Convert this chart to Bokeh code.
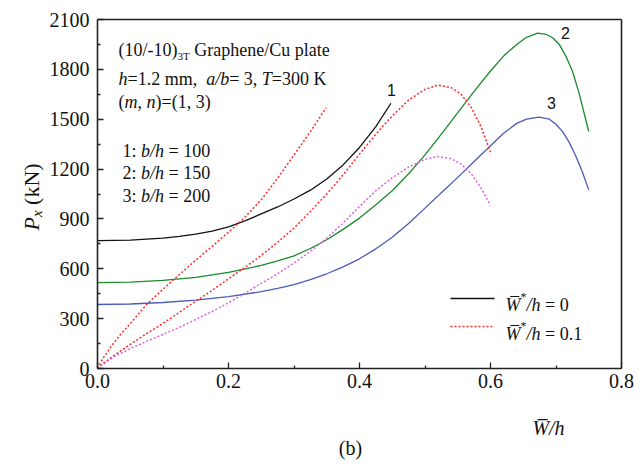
from math import pi

from bokeh.embed import file_html
from bokeh.models import FixedTicker, Label, LinearAxis, PrintfTickFormatter, Range1d
from bokeh.plotting import figure
from bokeh.resources import INLINE

# Central deflection ratio W/h and axial load P_x (kN)
# solid curves: perfect plate (W*/h = 0); dotted curves: imperfect plate (W*/h = 0.1)
x_perf_1 = [0, 0.05, 0.1, 0.125, 0.15, 0.175, 0.2, 0.225, 0.25, 0.275, 0.3, 0.325, 0.35,
            0.375, 0.4, 0.425, 0.448]
p_perf_1 = [770, 773, 785, 795, 808, 826, 852, 888, 930, 972, 1020, 1073, 1140,
            1225, 1330, 1455, 1596]

x_perf_2 = [0, 0.05, 0.1, 0.15, 0.2, 0.25, 0.275, 0.3, 0.325, 0.35, 0.375, 0.4, 0.425, 0.45,
            0.475, 0.5, 0.525, 0.55, 0.575, 0.6, 0.62, 0.64, 0.655, 0.672, 0.685, 0.695,
            0.705, 0.715, 0.725, 0.735, 0.75]
p_perf_2 = [517, 520, 530, 548, 578, 620, 647, 678, 722, 775, 837, 905, 985, 1070,
            1172, 1285, 1410, 1540, 1668, 1790, 1880, 1950, 1993, 2018, 2010, 1990,
            1950, 1880, 1790, 1660, 1426]

x_perf_3 = [0, 0.05, 0.1, 0.15, 0.2, 0.25, 0.275, 0.3, 0.325, 0.35, 0.375, 0.4, 0.425, 0.45,
            0.475, 0.5, 0.525, 0.55, 0.575, 0.6, 0.62, 0.64, 0.655, 0.674, 0.69, 0.7,
            0.71, 0.72, 0.73, 0.74, 0.75]
p_perf_3 = [385, 388, 397, 412, 432, 462, 482, 505, 535, 570, 612, 660, 720, 790,
            873, 965, 1058, 1150, 1245, 1340, 1415, 1475, 1500, 1512, 1500, 1470,
            1425, 1362, 1280, 1185, 1075]

x_imp_1 = [0, 0.005, 0.01, 0.02, 0.035, 0.05, 0.075, 0.1, 0.125, 0.15, 0.175, 0.2, 0.225,
           0.25, 0.275, 0.3, 0.325, 0.349]
p_imp_1 = [0, 38, 70, 128, 205, 270, 385, 477, 565, 652, 735, 820, 910,
           1015, 1145, 1285, 1425, 1569]

x_imp_2 = [0, 0.005, 0.01, 0.025, 0.05, 0.075, 0.1, 0.125, 0.15, 0.175, 0.2, 0.225, 0.25,
           0.275, 0.3, 0.325, 0.35, 0.375, 0.4, 0.425, 0.45, 0.475, 0.5, 0.52, 0.54,
           0.555, 0.57, 0.585, 0.6]
p_imp_2 = [0, 18, 35, 78, 145, 210, 272, 338, 405, 470, 540, 608, 680,
           760, 845, 945, 1050, 1165, 1290, 1410, 1520, 1615, 1680, 1705, 1690,
           1650, 1575, 1460, 1302]

x_imp_3 = [0, 0.005, 0.01, 0.025, 0.05, 0.075, 0.1, 0.125, 0.15, 0.175, 0.2, 0.225, 0.25,
           0.275, 0.3, 0.325, 0.35, 0.375, 0.4, 0.425, 0.45, 0.475, 0.5, 0.52, 0.54,
           0.555, 0.57, 0.585, 0.6]
p_imp_3 = [0, 16, 30, 70, 120, 163, 205, 248, 295, 343, 395, 453, 512,
           570, 635, 705, 785, 875, 975, 1070, 1148, 1212, 1258, 1276, 1262,
           1230, 1175, 1090, 981]

x_ticks = [0, 0.2, 0.4, 0.6, 0.8]
x_minor = [0.1, 0.3, 0.5, 0.7]
y_ticks = [0, 300, 600, 900, 1200, 1500, 1800, 2100]
y_minor = [150, 450, 750, 1050, 1350, 1650, 1950]

SERIF = "Liberation Serif"
SANS = "Liberation Sans"
INK = "#111111"

# canvas size and where the axes box sits on it (pixels from the top-left corner)
W, H = 643, 471
L, R, T, B = 97, 621, 19, 368
XMAX, YMAX = 0.8, 2100

# the frame spans the whole canvas; axes are pinned to the box edges
sx = (R - L) / XMAX
sy = (B - T) / YMAX
x_lo, x_hi = -L / sx, XMAX + (W - R) / sx
y_lo, y_hi = -(H - B) / sy, YMAX + T / sy


def dx(px):
    return x_lo + px / sx


def dy(py):
    return y_hi - py / sy


p = figure(width=W, height=H, x_range=Range1d(x_lo, x_hi), y_range=Range1d(y_lo, y_hi),
           output_backend="svg", toolbar_location=None, min_border=0)
p.background_fill_color = "white"
p.border_fill_color = "white"
p.outline_line_color = None
p.xgrid.visible = False
p.ygrid.visible = False


def style_axis(ax):
    ax.axis_line_color = "#222222"
    ax.axis_line_width = 1.6
    ax.major_tick_line_color = "#222222"
    ax.minor_tick_line_color = "#222222"
    ax.major_tick_line_width = 1.3
    ax.minor_tick_line_width = 1.3
    ax.major_tick_in = 6
    ax.major_tick_out = 0
    ax.minor_tick_in = 3
    ax.minor_tick_out = 0
    ax.major_label_text_font = SERIF
    ax.major_label_text_font_size = "20px"
    ax.major_label_text_color = INK


xa = p.xaxis[0]
style_axis(xa)
xa.fixed_location = 0
xa.bounds = (0, XMAX)
xa.ticker = FixedTicker(ticks=x_ticks, minor_ticks=x_minor)
xa.formatter = PrintfTickFormatter(format="%.1f")
xa.major_label_standoff = 5

ya = p.yaxis[0]
style_axis(ya)
ya.fixed_location = 0
ya.bounds = (0, YMAX)
ya.ticker = FixedTicker(ticks=y_ticks, minor_ticks=y_minor)
ya.major_label_standoff = 8

# plain top and right edges of the box
top = LinearAxis(fixed_location=YMAX, bounds=(0, XMAX), ticker=FixedTicker(ticks=[]))
right = LinearAxis(fixed_location=XMAX, bounds=(0, YMAX), ticker=FixedTicker(ticks=[]))
for ax in (top, right):
    style_axis(ax)
p.add_layout(top, "above")
p.add_layout(right, "right")
p.axis.major_label_text_font = SERIF

BLACK = "#111111"
GREEN = "#1b8a2b"
BLUE = "#4b5cb8"
RED = "#ff2a2a"
MAGENTA = "#dd62dd"

p.line(x_perf_1, p_perf_1, line_color=BLACK, line_width=1.3, line_join="round")
p.line(x_perf_2, p_perf_2, line_color=GREEN, line_width=1.3, line_join="round")
p.line(x_perf_3, p_perf_3, line_color=BLUE, line_width=1.3, line_join="round")
p.line(x_imp_1, p_imp_1, line_color=RED, line_width=1.5, line_dash="2 2")
p.line(x_imp_2, p_imp_2, line_color=RED, line_width=1.5, line_dash="2 2")
p.line(x_imp_3, p_imp_3, line_color=MAGENTA, line_width=1.5, line_dash="2 2")

# Times-metric advance widths (em) used to lay out mixed-style text runs
REG = {"(": .333, ")": .333, "/": .278, "-": .333, "=": .564, " ": .25, "\u00a0": .25,
       ",": .25, ":": .278, ".": .25, "m": .778, "K": .722, "G": .722, "r": .333,
       "a": .444, "p": .5, "h": .5, "e": .444, "n": .5, "C": .667, "u": .5, "l": .278,
       "t": .278, "T": .611, "k": .5, "N": .722, "*": .5}
ITA = {"a": .5, "b": .5, "h": .5, "m": .722, "n": .5, "T": .556, "P": .611, "x": .444,
       "W": .833, "/": .278, "\u0305": 0.0}
NB = "\u00a0"


def width(s, italic, size):
    tbl = ITA if italic else REG
    return sum(tbl.get(ch, .5) for ch in s) * size


def label(x_px, y_px, text, size, italic=False, font=SERIF, align="left",
          baseline="alphabetic", angle=0.0):
    p.add_layout(Label(x=dx(x_px), y=dy(y_px), text=text, text_font=font,
                       text_font_size=f"{size}px",
                       text_font_style="italic" if italic else "normal",
                       text_color=INK, text_align=align, text_baseline=baseline,
                       angle=angle))


def run(x_px, base_px, pieces, size=18):
    """Lay out a line of text pieces: (text, italic[, baseline shift px, size])."""
    x = x_px
    for piece in pieces:
        text, italic = piece[0], piece[1]
        shift = piece[2] if len(piece) > 2 else 0
        sz = piece[3] if len(piece) > 3 else size
        label(x, base_px + shift, text, sz, italic)
        x += width(text, italic, sz)


# plate description
run(118, 49.5, [("(10/-10)", False), ("3T", False, 5.5, 11),
                (NB + "Graphene/Cu plate", False)])
run(118, 78.5, [("h", True), ("=1.2 mm," + NB + NB, False), ("a/b", True),
                ("=" + NB + "3," + NB, False), ("T", True), ("=300 K", False)])
run(118, 101.5, [("(", False), ("m", True), ("," + NB, False), ("n", True),
                 (")=(1, 3)", False)])
for i, (num, ratio) in enumerate([("1", "100"), ("2", "150"), ("3", "200")]):
    run(122, 150 + 22.5 * i, [(num + ":" + NB, False), ("b/h", True),
                              (NB + "=" + NB + ratio, False)])

# curve numbers
for txt, (cx, cy) in {"1": (391, 89), "2": (565, 32), "3": (551, 102)}.items():
    label(cx, cy, txt, 16, font=SANS, align="center", baseline="middle")

# key for the two imperfection levels
p.segment(x0=[dx(450)], y0=[dy(298)], x1=[dx(494)], y1=[dy(298)],
          line_color=BLACK, line_width=1.3)
p.segment(x0=[dx(450)], y0=[dy(326)], x1=[dx(494)], y1=[dy(326)],
          line_color=RED, line_width=1.5, line_dash="2 2")
for base, val in [(304.5, "0"), (333, "0.1")]:
    run(505, base, [("W\u0305", True), ("*", False, -8, 12), ("/h", True),
                    (NB + "=" + NB + val, False)])

# axis titles
label(548, 427, "W\u0305/h", 20, italic=True, align="center")

yl_y = 230
for text, italic, shift, sz in [("P", True, 0, 22), ("x", True, 5, 15),
                                (NB + "(kN)", False, 0, 22)]:
    label(31 + shift, yl_y, text, sz, italic=italic, angle=pi / 2)
    yl_y -= width(text, italic, sz)

label(350, 447, "(b)", 20, align="center")

open("out.html", "w").write(file_html(p, INLINE))
